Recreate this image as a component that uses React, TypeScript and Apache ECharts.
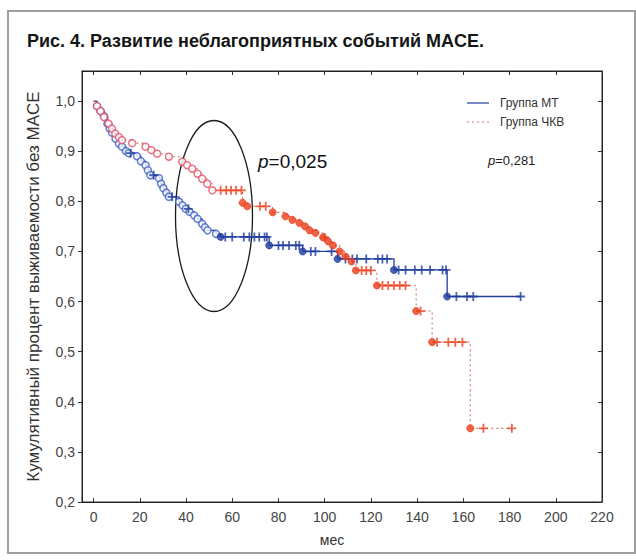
import React, { useEffect, useRef } from "react";
import * as echarts from "echarts";

const titleText = "Рис. 4. Развитие неблагоприятных событий MACE.";
const yAxisName = "Кумулятивный процент выживаемости без MACE";
const xAxisName = "мес";
const seriesNames = ["Группа МТ", "Группа ЧКВ"];
const pLeftValue = "0,025";
const pRightValue = "0,281";

const xTicks = [0, 20, 40, 60, 80, 100, 120, 140, 160, 180, 200, 220];
const yTicks = [0.2, 0.3, 0.4, 0.5, 0.6, 0.7, 0.8, 0.9, 1.0];

// Group МТ (blue): Kaplan–Meier steps (time, survival after the event)
const mtTime = [0, 1.5, 3, 4.5, 6, 7, 8, 9.5, 11, 12.3, 14, 15.2, 18.8, 20.5, 22.5, 23.5, 24.6, 28.3, 29.2, 30.2, 31.5, 32.6, 37, 38.5, 39.9, 41.5, 43.5, 45, 47, 48.2, 49.3, 53, 55, 76, 90.5, 105.6, 130, 153, 184.8];
const mtSurv = [1.0, 0.99, 0.98, 0.97, 0.955, 0.945, 0.937, 0.925, 0.915, 0.909, 0.9, 0.896, 0.89, 0.88, 0.872, 0.862, 0.852, 0.846, 0.835, 0.826, 0.817, 0.809, 0.799, 0.792, 0.785, 0.779, 0.772, 0.765, 0.755, 0.748, 0.742, 0.735, 0.729, 0.712, 0.7, 0.685, 0.663, 0.61, 0.61];
const mtCensored = [16, 26, 34, 41, 57, 60, 65, 67.4, 69.6, 71.7, 74, 75, 80, 82, 84.6, 87.5, 89, 94, 96, 103, 109, 112, 114, 118, 123, 125, 127, 132, 135, 139, 142, 145.6, 151, 152.5, 157, 161.6, 164.3, 184.8];

// Group ЧКВ (red)
const pciTime = [0, 1.5, 3, 4.5, 6.5, 8, 9.4, 11, 12.3, 16.7, 22.5, 25, 27.5, 32.6, 38.4, 40.5, 42.7, 45, 47, 49.2, 51.4, 64.5, 66.5, 77.5, 83, 86, 89, 91.5, 93.5, 96, 99.3, 101.5, 103.6, 106.5, 109, 111.6, 113.5, 122.6, 139.6, 146.5, 163, 181];
const pciSurv = [1.0, 0.99, 0.98, 0.968, 0.955, 0.945, 0.935, 0.928, 0.922, 0.916, 0.909, 0.902, 0.895, 0.889, 0.879, 0.872, 0.865, 0.855, 0.845, 0.835, 0.822, 0.797, 0.79, 0.778, 0.77, 0.763, 0.757, 0.75, 0.742, 0.737, 0.728, 0.72, 0.712, 0.7, 0.69, 0.68, 0.662, 0.632, 0.581, 0.519, 0.347, 0.347];
const pciCensored = [55, 57.4, 59.5, 61.7, 64, 72, 74.5, 100, 116, 118, 120, 125, 127.5, 130, 132.5, 135, 141.5, 148.6, 153.5, 156.5, 159.6, 168.7, 181];

const BLUE = "#1f3c9e";
const BLUE_LIGHT = "#3a5fc4";
const RED = "#ec3e1c";
const PINK = "#e2506a";
const RED_DASH = "#c9786e";
const FONT = "'Liberation Sans', Arial, sans-serif";
const PLUS = "path://M4,0L6,0L6,4L10,4L10,6L6,6L6,10L4,10L4,6L0,6L0,4L4,4Z";

function survAt(times: number[], surv: number[], t: number) {
  let v = surv[0];
  for (let i = 0; i < times.length; i++) if (times[i] <= t) v = surv[i];
  return v;
}

function events(times: number[], surv: number[], hollowBefore: number, lightColor: string, darkColor: string) {
  const out: any[] = [];
  for (let i = 1; i < times.length - 1; i++) {
    const hollow = times[i] < hollowBefore;
    out.push({
      value: [times[i], surv[i]],
      itemStyle: hollow
        ? { color: "#ffffff", borderColor: lightColor, borderWidth: 1.5 }
        : { color: darkColor, borderColor: darkColor, borderWidth: 1 },
    });
  }
  return out;
}

export default function App() {
  const ref = useRef<HTMLDivElement>(null);
  useEffect(() => {
    if (!ref.current) return;
    const chart = echarts.init(ref.current, undefined, { renderer: "svg" });
    const fmt = (v: number) => v.toFixed(1).replace(".", ",");
    const commonX = { type: "value", min: -5, max: 220 } as any;
    const commonY = { type: "value", min: 0.2, max: 1.06 } as any;
    chart.setOption({
      animation: false,
      backgroundColor: "#ffffff",
      title: {
        text: titleText,
        left: 22,
        top: 27,
        textStyle: { fontFamily: FONT, fontSize: 18, fontWeight: "bold", color: "#151515" },
      },
      grid: { left: 82, right: 34, top: 71, bottom: 58, show: true, borderColor: "#222", borderWidth: 1 },
      xAxis: [
        {
          ...commonX,
          position: "bottom",
          name: xAxisName,
          nameLocation: "middle",
          nameGap: 31,
          nameTextStyle: { fontFamily: FONT, fontSize: 14, color: "#333", padding: [0, 20, 0, 0] },
          splitLine: { show: false },
          axisLine: { onZero: false, lineStyle: { color: "#222" } },
          axisTick: { inside: true, length: 4, customValues: xTicks, lineStyle: { color: "#333" } },
          axisLabel: { customValues: xTicks, fontFamily: FONT, fontSize: 14, color: "#444", margin: 8 },
        },
        {
          ...commonX,
          position: "top",
          splitLine: { show: false },
          axisLine: { onZero: false, lineStyle: { color: "#222" } },
          axisTick: { inside: true, length: 4, customValues: xTicks, lineStyle: { color: "#333" } },
          axisLabel: { show: false },
        },
      ],
      yAxis: [
        {
          ...commonY,
          position: "left",
          name: yAxisName,
          nameLocation: "middle",
          nameGap: 40,
          nameTextStyle: { fontFamily: FONT, fontSize: 17, color: "#333" },
          splitLine: { show: false },
          axisLine: { show: true, onZero: false, lineStyle: { color: "#222" } },
          axisTick: { show: true, inside: false, length: 4, customValues: yTicks, lineStyle: { color: "#333" } },
          axisLabel: { customValues: yTicks, formatter: fmt, fontFamily: FONT, fontSize: 14, color: "#444", margin: 7 },
        },
        {
          ...commonY,
          position: "right",
          splitLine: { show: false },
          axisLine: { show: true, onZero: false, lineStyle: { color: "#222" } },
          axisTick: { show: true, inside: true, length: 4, customValues: yTicks, lineStyle: { color: "#333" } },
          axisLabel: { show: false },
        },
      ],
      series: [
        {
          name: seriesNames[0],
          type: "line",
          step: "end",
          symbol: "none",
          data: mtTime.map((t, i) => [t, mtSurv[i]]),
          lineStyle: { color: BLUE, width: 1.3 },
          z: 2,
        },
        {
          name: seriesNames[1],
          type: "line",
          step: "end",
          symbol: "none",
          data: pciTime.map((t, i) => [t, pciSurv[i]]),
          lineStyle: { color: RED_DASH, width: 1.1, type: [2, 3] },
          z: 2,
        },
        {
          type: "scatter",
          symbol: "circle",
          symbolSize: 7,
          data: events(mtTime, mtSurv, 55, BLUE_LIGHT, BLUE),
          z: 3,
        },
        {
          type: "scatter",
          symbol: PLUS,
          symbolSize: 9,
          itemStyle: { color: BLUE },
          data: mtCensored.map((t) => [t, survAt(mtTime, mtSurv, t)]),
          z: 3,
        },
        {
          type: "scatter",
          symbol: "circle",
          symbolSize: 7,
          data: events(pciTime, pciSurv, 62, PINK, RED),
          z: 4,
        },
        {
          type: "scatter",
          symbol: PLUS,
          symbolSize: 9,
          itemStyle: { color: RED },
          data: pciCensored.map((t) => [t, survAt(pciTime, pciSurv, t)]),
          z: 4,
        },
      ],
      graphic: [
        {
          type: "rect",
          shape: { x: 8, y: 11, width: 627, height: 542 },
          style: { fill: "none", stroke: "#a0a0a0", lineWidth: 2 },
          silent: true,
        },
        {
          type: "ellipse",
          shape: { cx: 214, cy: 216, rx: 38.5, ry: 95.5 },
          style: { fill: "none", stroke: "#1a1a1a", lineWidth: 1.3 },
          silent: true,
        },
        {
          type: "line",
          shape: { x1: 467, y1: 103, x2: 489, y2: 103 },
          style: { stroke: BLUE, lineWidth: 1.2 },
        },
        {
          type: "line",
          shape: { x1: 467, y1: 122, x2: 489, y2: 122 },
          style: { stroke: RED_DASH, lineWidth: 1.1, lineDash: [2, 3] },
        },
        {
          type: "text",
          x: 500,
          y: 103,
          style: { text: seriesNames[0], fontFamily: FONT, fontSize: 12, fill: "#333", verticalAlign: "middle" },
        },
        {
          type: "text",
          x: 500,
          y: 122,
          style: { text: seriesNames[1], fontFamily: FONT, fontSize: 12, fill: "#333", verticalAlign: "middle" },
        },
        {
          type: "text",
          x: 488,
          y: 160,
          style: {
            text: "{i|p}=" + pRightValue,
            fontFamily: FONT,
            fontSize: 13,
            fill: "#222",
            verticalAlign: "middle",
            rich: { i: { fontStyle: "italic", fontFamily: FONT, fontSize: 13, fill: "#222" } },
          },
        },
        {
          type: "text",
          x: 258,
          y: 161,
          style: {
            text: "{i|p}=" + pLeftValue,
            fontFamily: FONT,
            fontSize: 19,
            fill: "#111",
            verticalAlign: "middle",
            rich: { i: { fontStyle: "italic", fontFamily: FONT, fontSize: 19, fill: "#111" } },
          },
        },
      ],
    });
    return () => chart.dispose();
  }, []);
  return <div ref={ref} style={{ width: 636, height: 560, position: "absolute", left: 0, top: 0 }} />;
}
